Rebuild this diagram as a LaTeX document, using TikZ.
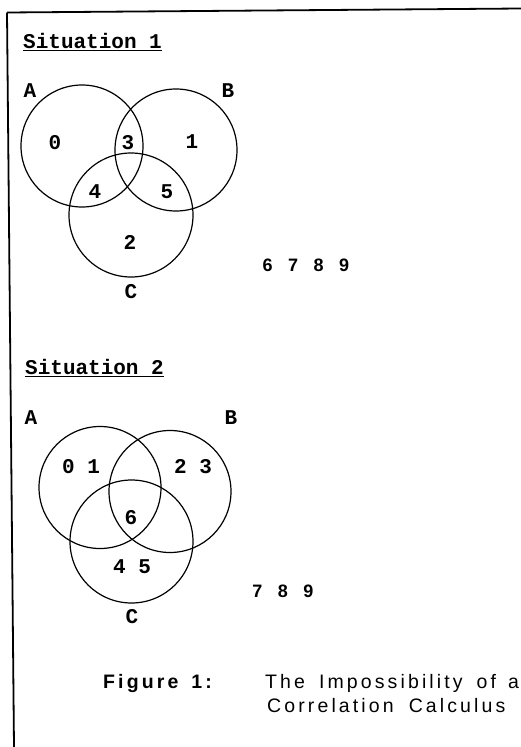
\documentclass[tikz,border=0pt]{standalone}
\usepackage{fontspec}
\newfontfamily\tyfont{Liberation Mono}
\newfontfamily\capfont{Liberation Sans}[LetterSpace=16]
\newfontfamily\numfont{Liberation Sans}
\tikzset{
  vcirc/.style={circle, draw, line width=1.2pt, inner sep=0pt, minimum size=122pt},
  tw/.style={font=\tyfont\bfseries\fontsize{21}{23}\selectfont, inner sep=0pt},
  num/.style={font=\numfont\bfseries\fontsize{18}{20}\selectfont, inner sep=0pt},
  capb/.style={font=\capfont\bfseries\fontsize{19.5}{22}\selectfont, inner sep=0pt},
  capr/.style={font=\capfont\fontsize{19.5}{22}\selectfont, inner sep=0pt},
  frame/.style={line width=1.8pt},
  uline/.style={line width=1.1pt}
}
\begin{document}
\begin{tikzpicture}[x=1pt,y=-1pt]
\useasboundingbox (0,0) rectangle (521,747);
% frame
\draw[frame] (7,12.5) -- (14,747);
\draw[frame] (7,12.5) -- (521,8.5);

% Situation 1
\node[tw, anchor=base west] (s1) at (23,48) {Situation 1};
\draw[uline] ([yshift=-2.5pt]s1.south west) -- ([yshift=-2.5pt]s1.south east);
\node[vcirc] (A1) at (82,146) {};
\node[vcirc] (B1) at (176,150) {};
\node[vcirc, minimum size=124pt] (C1) at (131,215) {};
\node[tw] (la1) at (30,91) {A};
\node[tw] (lb1) at (228,91) {B};
\node[tw] (lc1) at (131,292) {C};
\node[tw] (n0) at (55,143) {0};
\node[tw] (n3) at (128,143) {3};
\node[tw] (n1) at (192,142) {1};
\node[tw] (n4) at (95,192) {4};
\node[tw] (n5) at (167,192) {5};
\node[tw] (n2) at (130,242) {2};
\node[num] (rest1) at (306,265) {6\hspace{15.5pt}7\hspace{15.5pt}8\hspace{15.5pt}9};

% Situation 2
\node[tw, anchor=base west] (s2) at (25,374) {Situation 2};
\draw[uline] ([yshift=-2.5pt]s2.south west) -- ([yshift=-2.5pt]s2.south east);
\node[vcirc] (A2) at (100,487.5) {};
\node[vcirc] (B2) at (170,491.5) {};
\node[vcirc, minimum size=123pt] (C2) at (131.5,541.5) {};
\node[tw] (la2) at (31,418) {A};
\node[tw] (lb2) at (231,418) {B};
\node[tw] (lc2) at (132,617) {C};
\node[tw] (m01) at (81,467) {0 1};
\node[tw] (m23) at (193,467) {2 3};
\node[tw] (m6) at (131,518) {6};
\node[tw] (m45) at (132,567) {4 5};
\node[num] (rest2) at (283,591) {7\hspace{15.5pt}8\hspace{15.5pt}9};

% caption
\node[capb, anchor=base west] (fig) at (103,688) {Figure\hspace{13pt}1:};
\node[capr, anchor=base west] (t1) at (265,688) {The\hspace{14pt}Impossibility\hspace{14pt}of\hspace{12pt}a};
\node[capr, anchor=base west] (t2) at (267,712) {Correlation\hspace{15pt}Calculus};
\end{tikzpicture}
\end{document}
